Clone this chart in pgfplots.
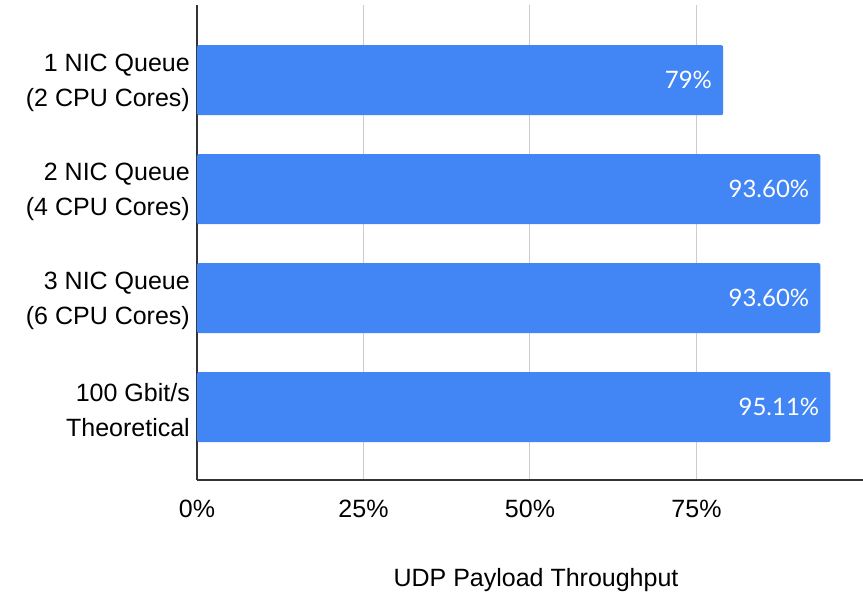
\documentclass[border=0pt]{standalone}
\usepackage{pgfplots}
\pgfplotsset{compat=1.18}
\usepackage{pgfplotstable}
\usepackage{fontspec}
\setmainfont{Liberation Sans}
\newfontfamily\valfont{Lato}
\definecolor{barblue}{HTML}{4285F4}
\definecolor{axisgray}{HTML}{333333}
\definecolor{gridgray}{HTML}{CCCCCC}
\pgfplotstableread{
idx val lab
0 79.00 79\%
1 93.60 93.60\%
2 93.60 93.60\%
3 95.11 95.11\%
}\datatable
\begin{document}
\begin{tikzpicture}
\path[use as bounding box] (-197pt,-112pt) rectangle (666pt,480pt);
\begin{axis}[
  at={(0pt,0pt)}, anchor=south west,
  scale only axis,
  width=666pt, height=475pt,
  xbar, bar width=70pt,
  xmin=0, xmax=100,
  ymin=-0.69, ymax=3.67,
  y dir=reverse,
  axis x line=bottom, axis y line=left,
  axis line style={axisgray, line width=1.1pt, -},
  xtick={0,25,50,75},
  xticklabels={0\%,25\%,50\%,75\%},
  ytick={0,1,2,3},
  yticklabels={{1 NIC Queue\\(2 CPU Cores)},{2 NIC Queue\\(4 CPU Cores)},{3 NIC Queue\\(6 CPU Cores)},{100 Gbit/s\\Theoretical}},
  major tick length=0pt,
  xmajorgrids,
  grid style={gridgray, line width=1pt},
  xticklabel style={inner sep=0pt, anchor=north, yshift=-20pt, font=\fontsize{25}{30}\selectfont, text=black},
  yticklabel style={align=right, inner sep=0pt, anchor=east, xshift=-7pt, yshift=-3pt, font=\fontsize{25}{35}\selectfont, text=black},
  xlabel={UDP Payload Throughput},
  xlabel style={at={(axis description cs:0.5,0)}, anchor=base, yshift=-106pt, xshift=6pt, font=\fontsize{25}{30}\selectfont},
  point meta=explicit symbolic,
  nodes near coords,
  nodes near coords style={anchor=east, inner sep=0pt, xshift=-11pt, text=white, font=\valfont\fontsize{24}{28}\selectfont},
  clip=false,
]
\addplot[fill=barblue, draw=none, rounded corners=2pt] table[x=val, y=idx, meta=lab] {\datatable};
\end{axis}
\end{tikzpicture}
\end{document}
